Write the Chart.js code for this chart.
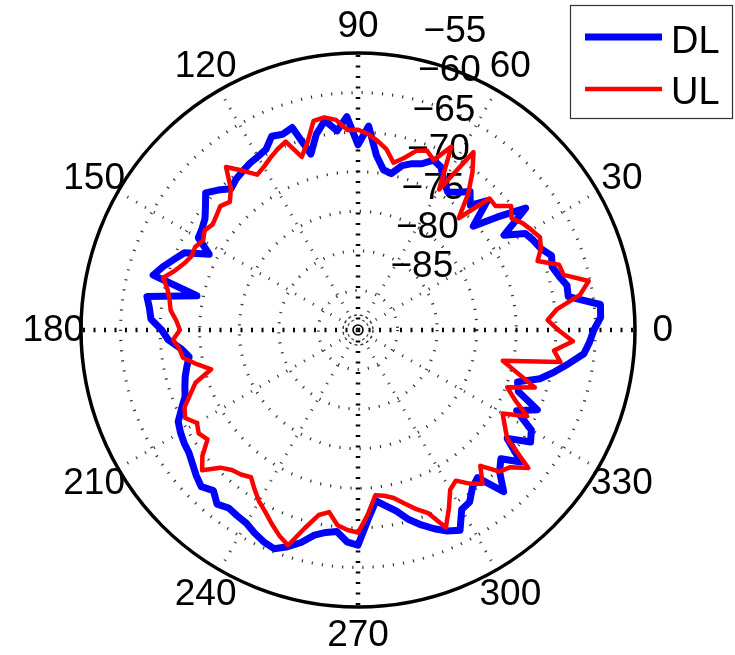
<!DOCTYPE html>
<html>
<head>
<meta charset="utf-8">
<script src="https://cdn.jsdelivr.net/npm/chart.js@4/dist/chart.umd.min.js"></script>
<style>
  html, body { margin: 0; padding: 0; background: #fff; }
  canvas { display: block; }
</style>
</head>
<body>
<canvas id="c" width="735" height="655"></canvas>
<script>
// Azimuth of each sample, degrees (counter-clockwise from the right)
const angleDeg = [
  0, 3, 6, 9, 12, 15, 18, 21, 24, 27, 30, 33, 36, 39, 42, 45, 48, 51, 54, 57,
  60, 63, 66, 69, 72, 75, 78, 81, 84, 87, 90, 93, 96, 99, 102, 105, 108, 111, 114, 117,
  120, 123, 126, 129, 132, 135, 138, 141, 144, 147, 150, 153, 156, 159, 162, 165, 168, 171, 174, 177,
  180, 183, 186, 189, 192, 195, 198, 201, 204, 207, 210, 213, 216, 219, 222, 225, 228, 231, 234, 237,
  240, 243, 246, 249, 252, 255, 258, 261, 264, 267, 270, 273, 276, 279, 282, 285, 288, 291, 294, 297,
  300, 303, 306, 309, 312, 315, 318, 321, 324, 327, 330, 333, 336, 339, 342, 345, 348, 351, 354, 357
];

// Downlink received power, dBm
const dlPower = [
  -60.2, -59.3, -59.2, -63.1, -63.0, -63.7, -64.2, -63.8, -64.7, -65.1, -65.6, -68.0, -63.8, -67.3, -70.4, -66.9, -68.8, -67.5, -68.5, -69.2,
  -68.3, -66.9, -66.5, -67.5, -67.9, -68.5, -69.8, -69.5, -67.8, -64.2, -66.6, -63.0, -64.7, -63.2, -64.7, -67.0, -63.1, -63.5, -63.2, -64.4,
  -64.7, -64.9, -65.2, -65.5, -66.0, -65.0, -64.1, -65.2, -66.1, -66.5, -66.7, -68.9, -66.0, -65.1, -64.1, -63.2, -69.2, -63.0, -63.5, -63.8,
  -65.2, -66.0, -67.5, -68.4, -67.9, -67.4, -67.0, -66.6, -65.6, -64.5, -64.1, -63.8, -63.6, -63.1, -62.5, -62.0, -62.7, -61.7, -62.2, -62.0,
  -61.8, -61.2, -60.7, -60.4, -61.2, -62.2, -63.5, -64.1, -64.4, -63.2, -62.8, -66.0, -68.3, -67.5, -66.6, -65.2, -64.1, -63.1, -62.2, -61.6,
  -63.8, -64.1, -65.4, -66.0, -62.5, -64.7, -65.7, -63.5, -66.7, -64.0, -64.7, -67.5, -65.2, -68.3, -68.8, -66.2, -64.6, -63.0, -61.3, -60.7
];

// Uplink received power, dBm
const ulPower = [
  -64.7, -66.0, -64.7, -61.6, -60.2, -63.1, -63.3, -65.7, -64.7, -64.2, -64.7, -65.2, -66.0, -65.1, -66.6, -66.5, -71.0, -67.9, -65.4, -63.2,
  -69.5, -64.0, -66.5, -65.7, -66.2, -67.5, -68.4, -66.9, -66.0, -65.2, -64.7, -64.7, -63.3, -62.8, -63.0, -65.4, -67.0, -64.5, -65.0, -65.6,
  -66.2, -66.6, -65.1, -63.5, -66.0, -67.1, -66.6, -67.0, -67.3, -66.9, -67.4, -66.9, -67.0, -66.5, -65.7, -64.5, -65.4, -65.9, -66.2, -67.0,
  -67.5, -66.6, -67.3, -67.6, -69.2, -70.8, -68.4, -67.3, -66.0, -65.5, -66.5, -66.0, -66.5, -64.7, -63.5, -65.4, -66.2, -66.5, -67.0, -66.0,
  -65.0, -64.2, -63.2, -62.2, -61.4, -64.1, -66.1, -66.7, -65.2, -64.7, -64.4, -66.6, -69.0, -68.8, -68.3, -67.3, -66.2, -65.2, -62.7, -64.7,
  -66.7, -67.3, -66.0, -65.0, -66.9, -64.7, -64.1, -62.3, -66.7, -67.9, -68.9, -66.0, -68.3, -69.8, -66.5, -69.2, -71.3, -64.1, -65.1, -62.8
];

// Axis labels
const radialTicks = [-85, -80, -75, -70, -65, -60, -55];
const angleTicks = [0, 30, 60, 90, 120, 150, 180, 210, 240, 270, 300, 330];
const seriesNames = ['DL', 'UL'];
const seriesColors = ['#0000ff', '#ff0000'];

const FONT = '"Liberation Sans", Arial, Helvetica, sans-serif';

// The radar scale runs clockwise from its start angle, so walk the
// counter-clockwise samples backwards: index i -> angleDeg[(N - i) % N].
const N = angleDeg.length;
const order = angleDeg.map((_, i) => (N - i) % N);
const radarLabels = order.map(k => String(angleDeg[k]));
const angleAt = order.map(k => angleDeg[k]);
const indexOfAngle = a => angleAt.indexOf(a);

const polarDecor = {
  id: 'polarDecor',
  beforeDatasetsDraw(chart) {
    const s = chart.scales.r;
    const ctx = chart.ctx;
    const cx = s.xCenter, cy = s.yCenter, R = s.drawingArea;
    ctx.save();

    // solid outer boundary
    ctx.setLineDash([]);
    ctx.strokeStyle = '#000';
    ctx.lineWidth = 3.5;
    ctx.beginPath();
    ctx.arc(cx, cy, R, 0, Math.PI * 2);
    ctx.stroke();

    // tiny rings at the origin
    ctx.lineWidth = 1.6;
    ctx.beginPath();
    ctx.arc(cx, cy, 5, 0, Math.PI * 2);
    ctx.stroke();
    ctx.setLineDash([3, 3]);
    ctx.strokeStyle = '#333';
    ctx.lineWidth = 1.4;
    ctx.beginPath();
    ctx.arc(cx, cy, 15, 0, Math.PI * 2);
    ctx.stroke();
    ctx.setLineDash([]);

    // radial value labels along the 82 degree ray
    ctx.fillStyle = '#000';
    ctx.font = '37px ' + FONT;
    ctx.textAlign = 'left';
    ctx.textBaseline = 'alphabetic';
    const t = 82 * Math.PI / 180;
    radialTicks.forEach(v => {
      const r = s.getDistanceFromCenterForValue(v);
      ctx.fillText(String(v).replace('-', '\u2212'),
        cx + r * Math.cos(t) + 27, cy - r * Math.sin(t) - 13.5);
    });

    // azimuth labels just outside the boundary
    ctx.textAlign = 'center';
    ctx.textBaseline = 'middle';
    angleTicks.forEach(a => {
      const p = s.getPointPosition(indexOfAngle(a), R * 1.1);
      ctx.fillText(String(a), p.x, p.y + 1);
    });
    ctx.restore();
  },
  afterDraw(chart) {
    const ctx = chart.ctx;
    ctx.save();
    ctx.fillStyle = '#fff';
    ctx.fillRect(570, 5, 162, 113);
    ctx.strokeStyle = '#333';
    ctx.lineWidth = 1.2;
    ctx.strokeRect(570.5, 5.5, 162, 113);
    ctx.font = '38px ' + FONT;
    ctx.textAlign = 'left';
    ctx.textBaseline = 'alphabetic';
    const rows = [{ y: 37, base: 53 }, { y: 89, base: 104 }];
    chart.data.datasets.forEach((ds, i) => {
      ctx.strokeStyle = ds.borderColor;
      ctx.lineWidth = ds.borderWidth;
      ctx.lineCap = 'butt';
      ctx.beginPath();
      ctx.moveTo(585, rows[i].y);
      ctx.lineTo(662, rows[i].y);
      ctx.stroke();
      ctx.fillStyle = '#000';
      ctx.fillText(ds.label, 671, rows[i].base);
    });
    ctx.restore();
  }
};

new Chart(document.getElementById('c'), {
  type: 'radar',
  data: {
    labels: radarLabels,
    datasets: [
      {
        label: seriesNames[0],
        data: order.map(k => dlPower[k]),
        borderColor: seriesColors[0],
        borderWidth: 7,
        order: 1
      },
      {
        label: seriesNames[1],
        data: order.map(k => ulPower[k]),
        borderColor: seriesColors[1],
        borderWidth: 4.5,
        order: 0
      }
    ]
  },
  options: {
    responsive: false,
    animation: false,
    events: [],
    layout: { padding: { left: 81, top: 53, right: 100, bottom: 48 } },
    elements: {
      line: { tension: 0, fill: false, borderJoinStyle: 'round', borderCapStyle: 'round' },
      point: { radius: 0, hitRadius: 0, hoverRadius: 0 }
    },
    plugins: {
      legend: { display: false },
      title: { display: false },
      tooltip: { enabled: false }
    },
    scales: {
      r: {
        startAngle: 90,
        min: -90,
        max: -55,
        ticks: { display: false, stepSize: 5 },
        pointLabels: { display: false },
        grid: {
          circular: true,
          color: '#333',
          lineWidth: c => (c.tick && c.tick.value > -90 && c.tick.value < -55) ? 3 : 0
        },
        border: { dash: [1.2, 9] },
        angleLines: {
          display: true,
          color: c => angleAt[c.index] % 90 === 0 ? '#000' : '#444',
          lineWidth: c => angleAt[c.index] % 90 === 0 ? 4.5 : (angleAt[c.index] % 30 === 0 ? 3 : 0),
          borderDash: c => angleAt[c.index] % 90 === 0 ? [2, 8.5] : [1.2, 9]
        }
      }
    }
  },
  plugins: [polarDecor]
});
</script>
</body>
</html>
